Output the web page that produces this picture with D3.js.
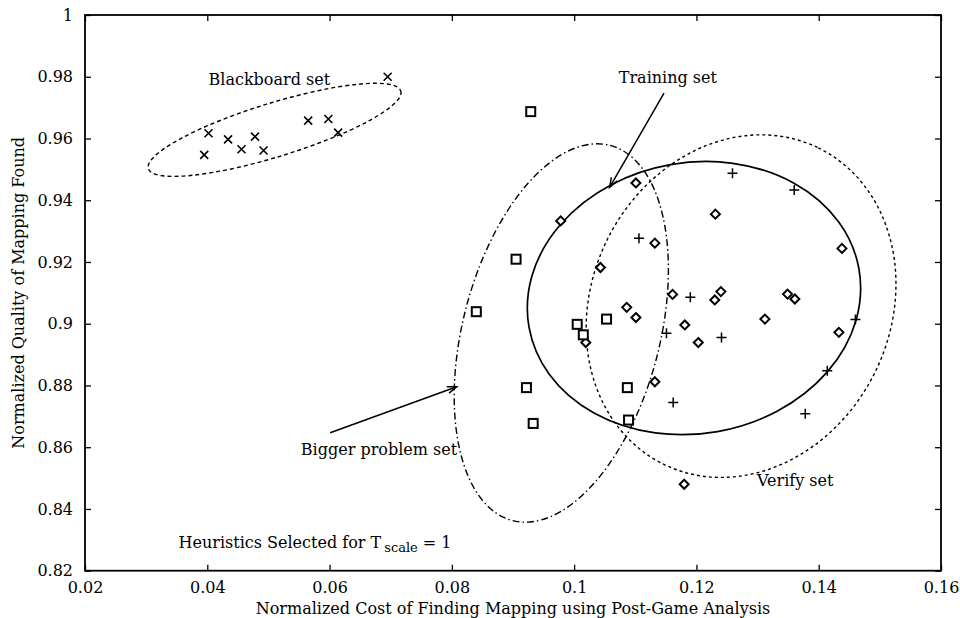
<!DOCTYPE html>
<html>
<head>
<meta charset="utf-8">
<script src="https://cdn.jsdelivr.net/npm/d3@7"></script>
<style>
  html, body { margin: 0; padding: 0; background: #fff; }
  svg { display: block; }
  text { font-family: 'DejaVu Serif', 'Liberation Serif', serif; fill: #000; }
</style>
</head>
<body>
<div id="chart"></div>
<script>
// Points, [cost, quality]
const blackboardSet = [
  [0.0695, 0.980], [0.0402, 0.9617], [0.0395, 0.9547], [0.0434, 0.9597], [0.0456, 0.9565],
  [0.0478, 0.9606], [0.0492, 0.9561], [0.0565, 0.9658], [0.0598, 0.9663], [0.0614, 0.9619]
]
const biggerSet = [
  [0.0929, 0.9687], [0.0905, 0.9209], [0.0840, 0.9039], [0.1005, 0.8998], [0.1015, 0.8964],
  [0.1053, 0.9015], [0.0922, 0.8793], [0.1087, 0.8793], [0.0933, 0.8677], [0.1089, 0.8688]
]
const trainingSet = [
  [0.1101, 0.9456], [0.0978, 0.9333], [0.1231, 0.9355], [0.1132, 0.9261], [0.1438, 0.9244],
  [0.1043, 0.9182], [0.1161, 0.9095], [0.1240, 0.9104], [0.1230, 0.9077], [0.1349, 0.9096],
  [0.1361, 0.9080], [0.1086, 0.9053], [0.1101, 0.9020], [0.1181, 0.8996], [0.1312, 0.9015],
  [0.1019, 0.8939], [0.1203, 0.8939], [0.1433, 0.8972], [0.1132, 0.8812], [0.1180, 0.8480]
]
const verifySet = [
  [0.1259, 0.9487], [0.1360, 0.9433], [0.1106, 0.9277], [0.1190, 0.9086], [0.1460, 0.9014],
  [0.1151, 0.8969], [0.1241, 0.8955], [0.1414, 0.8848], [0.1162, 0.8745], [0.1378, 0.8708]
]

const xTicks = [0.02, 0.04, 0.06, 0.08, 0.1, 0.12, 0.14, 0.16]
const xTickLabels = ['0.02', '0.04', '0.06', '0.08', '0.1', '0.12', '0.14', '0.16']
const yTicks = [0.82, 0.84, 0.86, 0.88, 0.9, 0.92, 0.94, 0.96, 0.98, 1]
const yTickLabels = ['0.82', '0.84', '0.86', '0.88', '0.9', '0.92', '0.94', '0.96', '0.98', '1']

// hand drawn ellipses round each set: centre in data units, half axes in data units, tilt in degrees
const ellipses = [
  { name: 'blackboard', cx: 0.0510, cy: 0.9628, rx: 0.0216, ry: 0.0087, angle: -17.1, dash: '4,3' },
  { name: 'bigger', cx: 0.0979, cy: 0.8970, rx: 0.0317, ry: 0.0319, angle: -75.4, dash: '7,3,1.5,3' },
  { name: 'training', cx: 0.1196, cy: 0.9083, rx: 0.0274, ry: 0.0439, angle: -10, dash: null },
  { name: 'verify', cx: 0.1273, cy: 0.9057, rx: 0.0288, ry: 0.0484, angle: -64, dash: '3,3' }
]
const labels = [
  { text: 'Blackboard set', x: 0.0402, y: 0.9773 },
  { text: 'Training set', x: 0.1073, y: 0.9779 },
  { text: 'Bigger problem set', x: 0.0553, y: 0.8575 },
  { text: 'Verify set', x: 0.1299, y: 0.8474 }
]
const arrows = [
  { from: [0.1147, 0.9747], to: [0.1058, 0.9442] },
  { from: [0.0601, 0.8647], to: [0.0808, 0.8796] }
]

const width = 960
const height = 618
const margin = { top: 15, right: 19, bottom: 47.3, left: 85 }
const fontSize = 16

const svg = d3.select('#chart').append('svg')
  .attr('width', width)
  .attr('height', height)

const x = d3.scaleLinear([0.02, 0.16], [margin.left, width - margin.right])
const y = d3.scaleLinear([0.82, 1], [height - margin.bottom, margin.top])

// axes, ticks point inward and are mirrored on top / right
const axisStyle = g => {
  g.select('.domain').remove()
  g.selectAll('.tick line').attr('stroke', '#000').attr('stroke-width', 1.3)
  g.selectAll('.tick text').attr('font-size', fontSize).attr('font-family', "'DejaVu Serif', serif")
}
svg.append('g')
  .attr('transform', `translate(0,${y(0.82)})`)
  .call(d3.axisBottom(x).tickValues(xTicks).tickSize(-6).tickPadding(11)
    .tickFormat((d, i) => xTickLabels[i]))
  .call(axisStyle)
svg.append('g')
  .attr('transform', `translate(0,${y(1)})`)
  .call(d3.axisTop(x).tickValues(xTicks).tickSize(-6).tickFormat(''))
  .call(axisStyle)
svg.append('g')
  .attr('transform', `translate(${x(0.02)},0)`)
  .call(d3.axisLeft(y).tickValues(yTicks).tickSize(-6).tickPadding(12)
    .tickFormat((d, i) => yTickLabels[i]))
  .call(axisStyle)
svg.append('g')
  .attr('transform', `translate(${x(0.16)},0)`)
  .call(d3.axisRight(y).tickValues(yTicks).tickSize(-6).tickFormat(''))
  .call(axisStyle)

svg.append('rect')
  .attr('x', x(0.02)).attr('y', y(1))
  .attr('width', x(0.16) - x(0.02)).attr('height', y(0.82) - y(1))
  .attr('fill', 'none').attr('stroke', '#000').attr('stroke-width', 1.8)

// ellipses
svg.append('g').selectAll('ellipse')
  .data(ellipses)
  .join('ellipse')
  .attr('transform', d => `translate(${x(d.cx)},${y(d.cy)}) rotate(${d.angle})`)
  .attr('rx', d => x(d.cx + d.rx) - x(d.cx))
  .attr('ry', d => y(d.cy) - y(d.cy + d.ry))
  .attr('fill', 'none')
  .attr('stroke', '#000')
  .attr('stroke-width', d => d.dash ? 1.4 : 1.7)
  .attr('stroke-dasharray', d => d.dash)

// arrows with open heads
const arrowG = svg.append('g').attr('stroke', '#000').attr('stroke-width', 1.5).attr('fill', 'none')
arrows.forEach(a => {
  const [x0, y0] = [x(a.from[0]), y(a.from[1])]
  const [x1, y1] = [x(a.to[0]), y(a.to[1])]
  const ang = Math.atan2(y1 - y0, x1 - x0)
  const len = 10
  const spread = 0.35
  arrowG.append('line').attr('x1', x0).attr('y1', y0).attr('x2', x1).attr('y2', y1)
  arrowG.append('path').attr('d', d3.line()([
    [x1 - len * Math.cos(ang - spread), y1 - len * Math.sin(ang - spread)],
    [x1, y1],
    [x1 - len * Math.cos(ang + spread), y1 - len * Math.sin(ang + spread)]
  ]))
})

// markers
const marks = svg.append('g').attr('stroke', '#000').attr('fill', 'none')

marks.append('g').selectAll('path')
  .data(blackboardSet)
  .join('path')
  .attr('d', d => {
    const px = x(d[0]), py = y(d[1]), s = 4
    return `M${px - s},${py - s}L${px + s},${py + s}M${px - s},${py + s}L${px + s},${py - s}`
  })
  .attr('stroke-width', 1.6)

marks.append('g').selectAll('path')
  .data(verifySet)
  .join('path')
  .attr('d', d => {
    const px = x(d[0]), py = y(d[1]), s = 5
    return `M${px - s},${py}L${px + s},${py}M${px},${py - s}L${px},${py + s}`
  })
  .attr('stroke-width', 1.5)

marks.append('g').selectAll('path')
  .data(trainingSet)
  .join('path')
  .attr('d', d => {
    const px = x(d[0]), py = y(d[1]), s = 4.5
    return `M${px},${py - s}L${px + s},${py}L${px},${py + s}L${px - s},${py}Z`
  })
  .attr('fill', '#fff')
  .attr('stroke-width', 2)

marks.append('g').selectAll('rect')
  .data(biggerSet)
  .join('rect')
  .attr('x', d => x(d[0]) - 4.5)
  .attr('y', d => y(d[1]) - 4.5)
  .attr('width', 9)
  .attr('height', 9)
  .attr('fill', '#fff')
  .attr('stroke-width', 2)

// annotation labels
svg.append('g').selectAll('text')
  .data(labels)
  .join('text')
  .attr('x', d => x(d.x))
  .attr('y', d => y(d.y))
  .attr('font-size', fontSize)
  .text(d => d.text)

const heur = svg.append('text')
  .attr('x', x(0.0353))
  .attr('y', y(0.8274))
  .attr('font-size', fontSize)
heur.append('tspan').text('Heuristics Selected for T')
heur.append('tspan').attr('dx', 3).attr('dy', 4).attr('font-size', 13).text('scale')
heur.append('tspan').attr('dy', -4).text(' = 1')

// axis titles
svg.append('text')
  .attr('x', (x(0.02) + x(0.16)) / 2)
  .attr('y', 614)
  .attr('text-anchor', 'middle')
  .attr('font-size', fontSize)
  .text('Normalized Cost of Finding Mapping using Post-Game Analysis')

svg.append('text')
  .attr('transform', `translate(24,${(y(0.82) + y(1)) / 2}) rotate(-90)`)
  .attr('text-anchor', 'middle')
  .attr('font-size', fontSize)
  .text('Normalized Quality of Mapping Found')
</script>
</body>
</html>
